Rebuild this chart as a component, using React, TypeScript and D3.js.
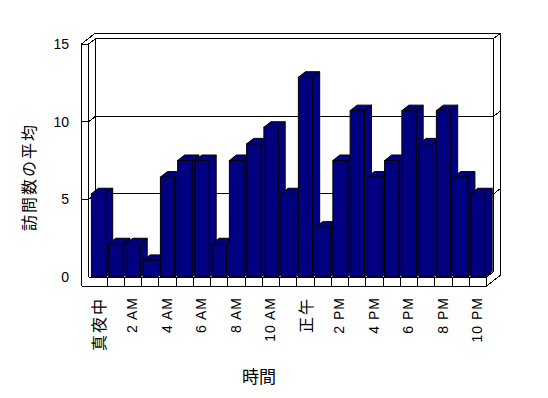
import * as d3 from "d3";

// hours shown on the x axis (no 11 PM in the data)
const hours = [
  "真夜中", "1 AM", "2 AM", "3 AM", "4 AM", "5 AM", "6 AM", "7 AM", "8 AM", "9 AM", "10 AM", "11 AM",
  "正午", "1 PM", "2 PM", "3 PM", "4 PM", "5 PM", "6 PM", "7 PM", "8 PM", "9 PM", "10 PM",
];
const avgVisits = [
  5.36, 2.14, 2.14, 1.07, 6.43, 7.5, 7.5, 2.14, 7.5, 8.57, 9.64, 5.36,
  12.86, 3.21, 7.5, 10.71, 6.43, 7.5, 10.71, 8.57, 10.71, 6.43, 5.36,
];
const yTicks = [0, 5, 10, 15];

const W = 548, H = 398;
const DX = 7, DY = -5.5; // oblique depth of bars / inner walls
const BAR = "#000080";

export default function App() {
  const y = d3.scaleLinear().domain([0, 15]).range([277, 44]);
  const x = d3.scaleBand<string>().domain(hours).range([90, 486.7]);
  const bw = x.bandwidth() * 0.83;

  const wallL = 81.5, wallR = 88.7;   // left wall front face
  const floorB = 286;                  // floor front bottom
  const y0 = y(0), yTop = y(15);
  const xEnd = x.range()[1];

  const cjk = (s: string) => /[^\x00-\x7f]/.test(s);

  return (
    <svg width={W} height={H} style={{ position: "absolute", left: 0, top: 0, background: "#fff" }}>
      <g stroke="#000" strokeWidth={1} fill="none" shapeRendering="crispEdges">
        {/* back wall inner face + outer edges */}
        <line x1={wallR + DX} y1={yTop + DY} x2={xEnd + DX} y2={yTop + DY} />
        <line x1={wallL + 2 * DX} y1={yTop + 2 * DY} x2={xEnd + 2 * DX} y2={yTop + 2 * DY} />
        <line x1={wallL} y1={yTop} x2={wallL + 2 * DX} y2={yTop + 2 * DY} />
        <line x1={wallR} y1={yTop} x2={wallR + DX} y2={yTop + DY} />
        <line x1={wallL} y1={yTop} x2={wallR} y2={yTop} />
        <line x1={wallR + DX} y1={yTop + DY} x2={wallR + DX} y2={y0 + DY} />
        <line x1={xEnd + DX} y1={yTop + DY} x2={xEnd + DX} y2={y0 + DY} />
        <line x1={xEnd + 2 * DX} y1={yTop + 2 * DY} x2={xEnd + 2 * DX} y2={floorB + 2 * DY} />
        <line x1={xEnd + DX} y1={yTop + DY} x2={xEnd + 2 * DX} y2={yTop + 2 * DY} />
        {/* gridlines */}
        {yTicks.filter(t => t > 0 && t < 15).map(t => (
          <g key={t}>
            <line x1={wallL} y1={y(t)} x2={wallR} y2={y(t)} />
            <line x1={wallR} y1={y(t)} x2={wallR + DX} y2={y(t) + DY} />
            <line x1={wallR + DX} y1={y(t) + DY} x2={xEnd + DX} y2={y(t) + DY} />
            <line x1={xEnd + DX} y1={y(t) + DY} x2={xEnd + 2 * DX} y2={y(t) + 2 * DY} />
          </g>
        ))}
        {/* left wall front face */}
        <line x1={wallL} y1={yTop} x2={wallL} y2={floorB} />
        <line x1={wallR} y1={yTop} x2={wallR} y2={y0} />
        {/* floor */}
        <line x1={wallL} y1={floorB} x2={xEnd} y2={floorB} />
        <line x1={wallR} y1={y0} x2={xEnd} y2={y0} />
        <line x1={xEnd} y1={y0} x2={xEnd} y2={floorB} />
        <line x1={xEnd} y1={floorB} x2={xEnd + 2 * DX} y2={floorB + 2 * DY} />
        <line x1={xEnd} y1={y0} x2={xEnd + DX} y2={y0 + DY} />
        {hours.slice(1).map(h => (
          <line key={h} x1={x(h)!} y1={y0} x2={x(h)!} y2={floorB} />
        ))}
      </g>

      {/* bars */}
      <g stroke="#000" strokeWidth={1} fill={BAR} strokeLinejoin="miter">
        {hours.map((h, i) => {
          const bx = x(h)! + 1.4;
          const v = y(avgVisits[i]);
          return (
            <g key={h}>
              <polygon points={`${bx + bw},${v} ${bx + bw + DX},${v + DY} ${bx + bw + DX},${y0 + DY} ${bx + bw},${y0}`} />
              <polygon points={`${bx},${v} ${bx + DX},${v + DY} ${bx + bw + DX},${v + DY} ${bx + bw},${v}`} />
              <rect x={bx} y={v} width={bw} height={y0 - v} />
            </g>
          );
        })}
      </g>

      {/* y tick labels */}
      <g fontFamily="'Liberation Sans', Arial, sans-serif" fontSize={14} textAnchor="end">
        {yTicks.map(t => (
          <text key={t} x={69} y={y(t)} dominantBaseline="central">{t}</text>
        ))}
      </g>

      {/* x tick labels, every second hour */}
      {hours.map((h, i) => {
        if (i % 2) return null;
        const cx = x(h)! + x.bandwidth() / 2 - 1;
        const isCjk = cjk(h);
        return (
          <text key={h} transform={`translate(${cx},297) rotate(-90)`} textAnchor="end" dominantBaseline="central"
            fontFamily={isCjk ? "'Noto Sans CJK JP', sans-serif" : "'Liberation Sans', Arial, sans-serif"}
            fontSize={isCjk ? 16 : 14} letterSpacing={isCjk ? 2 : 1}>
            {h}
          </text>
        );
      })}

      {/* axis titles */}
      <text transform="translate(28,177) rotate(-90)" textAnchor="middle" dominantBaseline="central"
        fontFamily="'Noto Sans CJK JP', sans-serif" fontSize={16} letterSpacing={2}>訪問数の平均</text>
      <text x={259} y={375} textAnchor="middle" dominantBaseline="central"
        fontFamily="'Noto Sans CJK JP', sans-serif" fontSize={17}>時間</text>
    </svg>
  );
}
